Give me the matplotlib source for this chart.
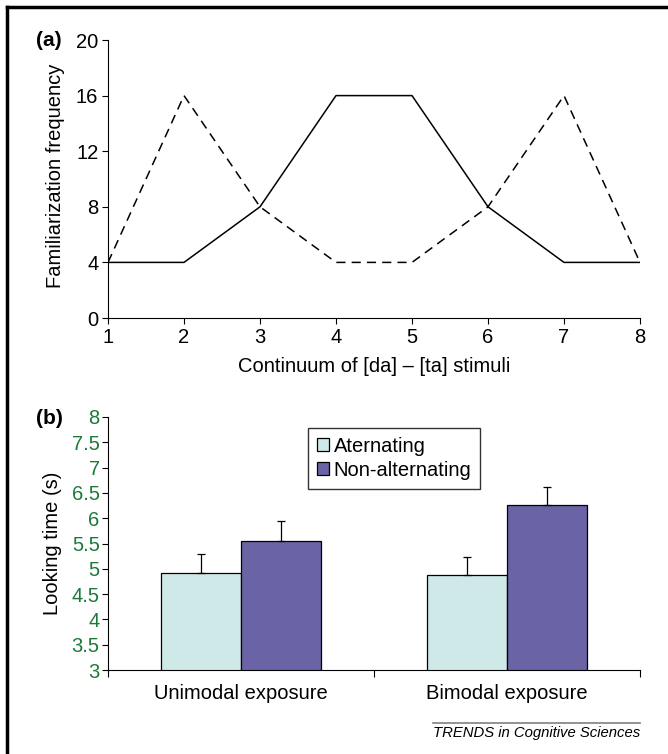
import matplotlib.pyplot as plt
from matplotlib.lines import Line2D
import numpy as np

plt.rcParams["font.family"] = ["Liberation Sans", "DejaVu Sans"]

# Panel (a): familiarization distributions along the [da]-[ta] continuum
stimuli = [1, 2, 3, 4, 5, 6, 7, 8]
unimodal_freq = [4, 4, 8, 16, 16, 8, 4, 4]
bimodal_freq = [4, 16, 8, 4, 4, 8, 16, 4]

# Panel (b): looking times
conditions = ["Unimodal exposure", "Bimodal exposure"]
alternating = [4.91, 4.88]
alternating_err = [0.38, 0.35]
non_alternating = [5.54, 6.27]
non_alternating_err = [0.40, 0.35]

green = "#1b7a3a"
light = "#cfe8e8"
purple = "#6a63a5"
fs = 14.5

fig = plt.figure(figsize=(6.68, 7.54), dpi=100)
W, H = 668, 754


def fx(px):
    return px / W


def fy(py):
    return 1 - py / H


# frame around figure (left and top only)
fig.add_artist(Line2D([fx(7), fx(7)], [0, fy(7)], color="black", lw=2.5))
fig.add_artist(Line2D([fx(7), 1], [fy(7), fy(7)], color="black", lw=2.5))

# ---- panel (a)
ax1 = fig.add_axes([fx(108), fy(318), fx(640) - fx(108), fy(40) - fy(318)])
ax1.plot(stimuli, unimodal_freq, color="black", lw=1.1)
ax1.plot(stimuli, bimodal_freq, color="black", lw=1.1, dashes=(6, 4))
ax1.set_xlim(1, 8)
ax1.set_ylim(0, 20)
ax1.set_xticks(stimuli)
ax1.set_yticks([0, 4, 8, 12, 16, 20])
for s in ["top", "right"]:
    ax1.spines[s].set_visible(False)
ax1.tick_params(labelsize=fs, length=4, width=0.8, pad=3)
ax1.set_ylabel("Familiarization frequency", fontsize=fs)
ax1.yaxis.set_label_coords(-0.0996, 0.51)
ax1.set_xlabel("Continuum of [da] \u2013 [ta] stimuli", fontsize=fs)
ax1.xaxis.set_label_coords(0.5, -0.176)
ax1.xaxis.label.set_va("center")
ax1.yaxis.label.set_va("center")
fig.text(fx(49), fy(40), "(a)", fontsize=15, fontweight="bold", ha="center", va="center")

# ---- panel (b)
ax2 = fig.add_axes([fx(108), fy(670), fx(640) - fx(108), fy(417) - fy(670)])
x = np.arange(len(conditions))
bw = 0.30
ax2.bar(x - bw / 2, alternating, bw, color=light, edgecolor="black",
        lw=0.9, label="Aternating",
        yerr=[np.zeros(2), alternating_err], capsize=3,
        error_kw=dict(lw=0.9, capthick=0.9))
ax2.bar(x + bw / 2, non_alternating, bw, color=purple, edgecolor="black",
        lw=0.9, label="Non-alternating",
        yerr=[np.zeros(2), non_alternating_err], capsize=3,
        error_kw=dict(lw=0.9, capthick=0.9))
ax2.set_xlim(-0.5, 1.5)
ax2.set_ylim(3, 8)
ax2.set_yticks(np.arange(3, 8.01, 0.5))
ax2.set_yticklabels(["3", "3.5", "4", "4.5", "5", "5.5", "6", "6.5", "7", "7.5", "8"])
ax2.set_xticks([-0.5, 0.5, 1.5])
ax2.set_xticklabels([])
ax2.set_xticks(x, minor=True)
ax2.set_xticklabels(conditions, minor=True)
ax2.tick_params(axis="x", which="minor", length=0, labelsize=fs, pad=10)
ax2.tick_params(axis="x", which="major", length=5, width=0.8)
ax2.tick_params(axis="y", labelsize=fs, labelcolor=green, length=4, width=0.8, pad=2)
for s in ["top", "right"]:
    ax2.spines[s].set_visible(False)
ax2.set_ylabel("Looking time (s)", fontsize=fs)
ax2.yaxis.set_label_coords(-0.105, 0.50)
ax2.yaxis.label.set_va("center")
leg = ax2.legend(loc="upper left", bbox_to_anchor=(0.375, 0.957), fontsize=fs,
                 frameon=True, fancybox=False, handlelength=0.6, handleheight=0.6,
                 handletextpad=0.25, borderpad=0.45, labelspacing=0.25,
                 borderaxespad=0)
leg.get_frame().set_edgecolor("black")
leg.get_frame().set_linewidth(1.0)
fig.text(fx(49), fy(418), "(b)", fontsize=15, fontweight="bold", ha="center", va="center")

# journal credit
fig.add_artist(Line2D([fx(433), fx(640)], [fy(723), fy(723)], color="gray", lw=1.2))
fig.text(fx(640), fy(733), "TRENDS in Cognitive Sciences", fontsize=10.7,
         style="italic", ha="right", va="center")

fig.savefig("out.png", dpi=100)
